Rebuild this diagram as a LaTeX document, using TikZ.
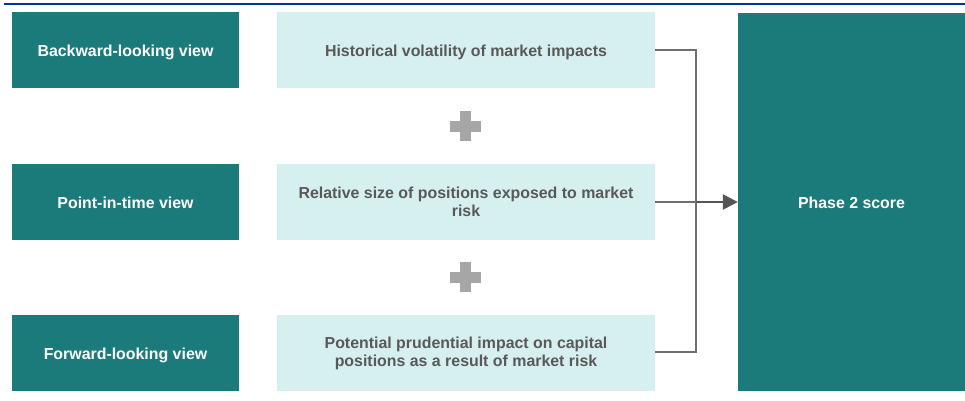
\documentclass[tikz,border=0pt]{standalone}
\usepackage{fontspec}
\setmainfont{Liberation Sans}
\usetikzlibrary{arrows.meta}
\definecolor{darkteal}{HTML}{1B7B7B}
\definecolor{lightteal}{HTML}{D6EFEF}
\definecolor{txtgray}{HTML}{595959}
\definecolor{linegray}{HTML}{707070}
\definecolor{arrowgray}{HTML}{555555}
\definecolor{plusgray}{HTML}{A6A6A6}
\definecolor{topblue}{HTML}{003399}
\tikzset{
  boxfont/.style={font=\fontsize{15.9}{18}\selectfont\bfseries, align=center},
  oneline/.style={text height=13pt, text depth=0pt},
  viewbox/.style={fill=darkteal, text=white, minimum width=227pt, minimum height=76pt, inner sep=0pt,
    boxfont, oneline},
  factorbox/.style={fill=lightteal, text=txtgray, minimum width=378pt, minimum height=76pt, inner sep=0pt,
    boxfont},
  scorebox/.style={fill=darkteal, text=white, minimum width=227pt, minimum height=378pt, inner sep=0pt,
    boxfont, oneline},
  conn/.style={draw=linegray, line width=2pt},
}
\begin{document}
\begin{tikzpicture}[x=1pt,y=-1pt]
\useasboundingbox (0,0) rectangle (965,400);
\draw[topblue, line width=2pt] (4,4) -- (965,4);
% left view boxes
\node[viewbox] (v1) at (125.5,50) {Backward-looking view};
\node[viewbox] (v2) at (125.5,202) {Point-in-time view};
\node[viewbox] (v3) at (125.5,353) {Forward-looking view};
% middle factor boxes
\node[factorbox, oneline] (f1) at (466,50) {Historical volatility of market impacts};
\node[factorbox] (f2) at (466,202) {Relative size of positions exposed to market\\risk};
\node[factorbox] (f3) at (466,353) {Potential prudential impact on capital\\positions as a result of market risk};
% score box
\node[scorebox] (s) at (851.5,202) {Phase 2 score};
% plus signs
\foreach \cy in {126,277}{
  \fill[plusgray] (450,\cy-5.5) rectangle (481,\cy+5.5);
  \fill[plusgray] (460,\cy-15) rectangle (471,\cy+15);
}
% connectors
\coordinate (j) at (696,202);
\draw[conn] (f1.east |- 0,50) -| (j) |- (f3.east |- 0,352);
\draw[conn] (f2.east) -- (j);
\draw[draw=arrowgray, line width=2.5pt, -{Triangle[length=15pt,width=15pt]}] (j) -- (s.west);
\end{tikzpicture}
\end{document}
